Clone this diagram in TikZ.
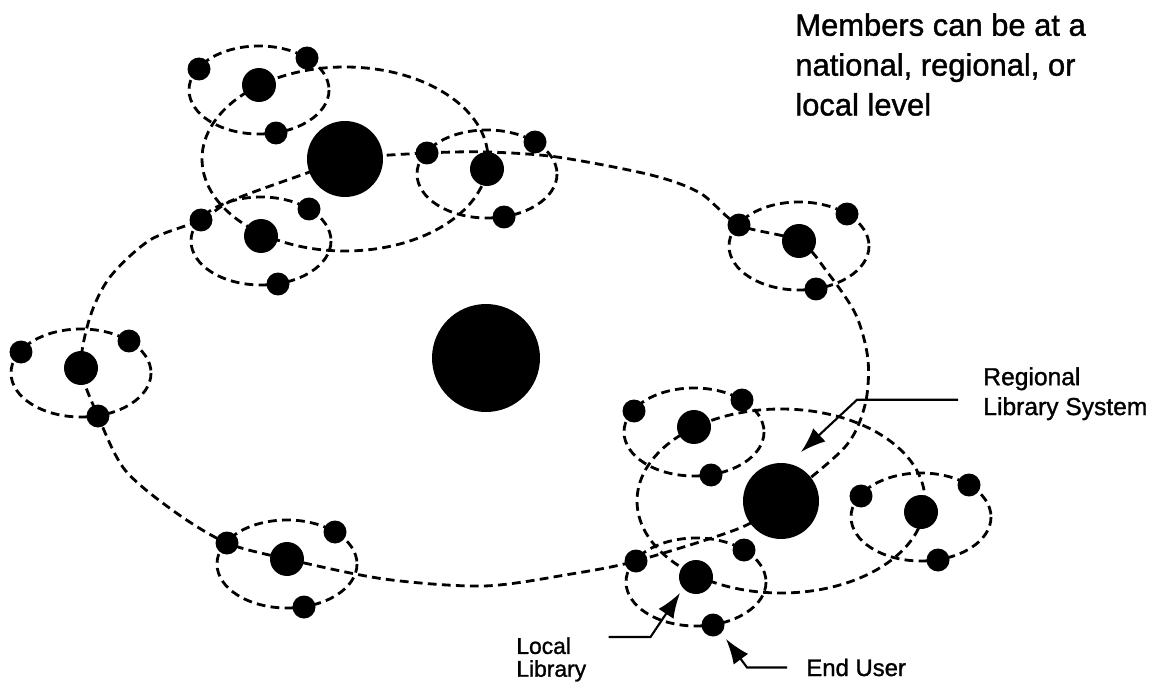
\documentclass[tikz,border=0pt]{standalone}
\usepackage{fontspec}
\setmainfont{Liberation Sans}[FakeBold=1.2]
\usetikzlibrary{arrows.meta}
\pgfdeclarelayer{background}
\pgfsetlayers{background,main}
\tikzset{
  link/.style={dash pattern=on 5pt off 3pt, line width=1.6pt},
  natnode/.style={circle, fill, inner sep=0, minimum size=2.16cm},
  regnode/.style={circle, fill, inner sep=0, minimum size=1.52cm},
  libnode/.style={circle, fill, inner sep=0, minimum size=0.68cm},
  usernode/.style={circle, fill, inner sep=0, minimum size=0.46cm},
  pointer/.style={line width=1.2pt, -{Latex[length=5mm,width=3.6mm]}},
  tag/.style={inner sep=0, align=left}
}
\begin{document}
\begin{tikzpicture}[x=0.02cm, y=-0.02cm]
\useasboundingbox (0,0) rectangle (1152,682);
% national and regional systems
\node[natnode] (nat) at (486,358) {};
\node[regnode] (regA) at (345,159) {};
\node[regnode] (regB) at (781,501) {};
% local libraries, each with three end users
\foreach \n/\px/\py in {A/259/85, B/261/236, C/487/169, D/81/368, E/287/559,
                        F/799/241, G/694/427, H/696/577, I/921/512}{
  \node[libnode] (\n) at (\px,\py) {};
  \node[usernode] (\n1) at (\px-60,\py-16) {};
  \node[usernode] (\n2) at (\px+48,\py-27) {};
  \node[usernode] (\n3) at (\px+17,\py+48) {};
  \begin{pgfonlayer}{background}
    \draw[link] (\px,\py+5) ellipse [x radius=70, y radius=44];
  \end{pgfonlayer}
}
\begin{pgfonlayer}{background}
\draw[link] (regA) ellipse [x radius=143, y radius=92];
\draw[link] (regB) ellipse [x radius=144, y radius=92];
% national ring
\draw[link] plot[smooth cycle] coordinates {(regA) (C1) (487,152) (557,157)
  (651,175) (700,193) (F1) (F) (828,273) (856,315) (868,360) (865,405)
  (845,447) (regB) (740,528) (H1) (571,574) (484,586) (384,579) (E) (E1)
  (175,512) (125,470) (D3) (D) (90,317) (110,277) (150,240) (B1) (233,200)
  (307,173)};
\end{pgfonlayer}
% texts
\node[tag, anchor=north west, font=\fontsize{17.6}{22.7}\selectfont] (note) at (795,13)
  {Members can be at a\\national, regional, or\\local level};
\node[tag, anchor=north west, font=\fontsize{14}{17}\selectfont] (reglab) at (983,367)
  {Regional\\Library System};
\node[tag, anchor=north west, font=\fontsize{13}{13}\selectfont] (loclab) at (516,637)
  {Local\\Library};
\node[tag, anchor=base west, font=\fontsize{13.6}{16}\selectfont] (endlab) at (806,676)
  {End User};
% pointers
\coordinate (regtip) at (801,452);
\coordinate (loctip) at (680,593);
\coordinate (endtip) at (726,639);
\draw[pointer] ([shift={(-25,6)}]reglab.west) -- ++(-101,0) -- (regtip);
\draw[pointer] ([shift={(22,0)}]loclab.north east) -- ++(42,0) -- (loctip);
\draw[pointer] ([shift={(-19,0)}]endlab.west) -- ++(-40,0) -- (endtip);
\end{tikzpicture}
\end{document}
